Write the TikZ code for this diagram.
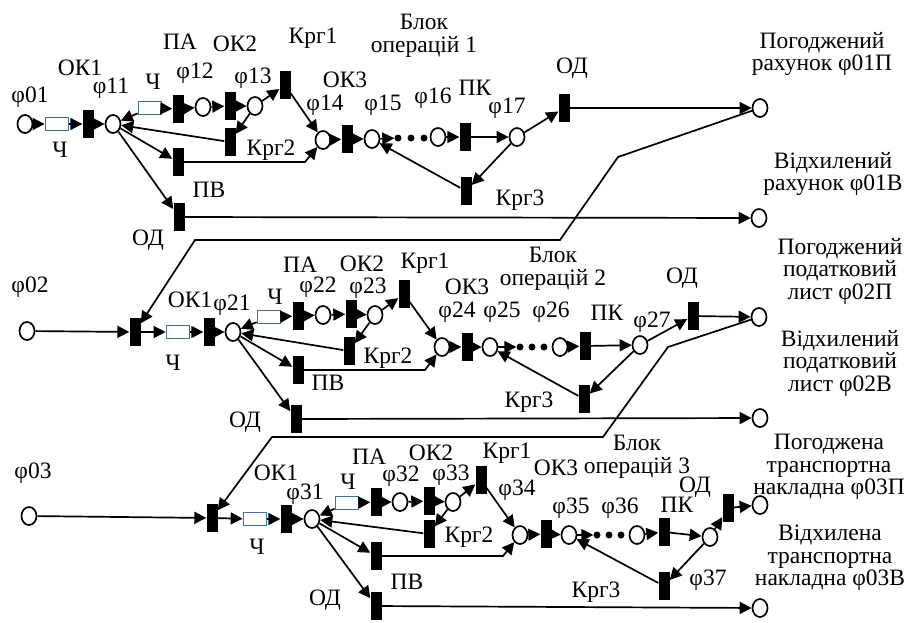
\documentclass[tikz,border=0pt]{standalone}
\usepackage{fontspec}
\setmainfont{Liberation Serif}
\usepackage{tikz}
\usetikzlibrary{arrows.meta,shapes.geometric}
\definecolor{QueueBlue}{HTML}{41719C}

\tikzset{
  place/.style={ellipse, draw, line width=1.7pt, minimum width=15pt, minimum height=18pt, inner sep=0pt},
  trans/.style={rectangle, fill=black, minimum width=11pt, minimum height=28pt, inner sep=0pt},
  queue/.style={rectangle, draw=QueueBlue, line width=1.7pt, minimum width=23pt, minimum height=13pt, inner sep=0pt},
  flow/.style={-{Triangle[length=12pt,width=12pt]}, line width=1.7pt},
  dot/.style={circle, fill=black, minimum size=7pt, inner sep=0pt},
  txt/.style={inner sep=0pt, align=center}
}

\begin{document}
\begin{tikzpicture}[x=1pt, y=-1pt, font=\fontsize{23.5}{22.5}\selectfont]
\useasboundingbox (0,0) rectangle (912,622);

% ---- block 1 ----
\node[place] (p01) at (25,124) {};
\node[queue] (q1a) at (57,124) {};
\node[trans] (ok11) at (88,124) {};
\node[place] (p11) at (113,124) {};
\node[queue] (q1b) at (150,108) {};
\node[trans] (pa1) at (178,109) {};
\node[place] (p12) at (203,107) {};
\node[trans] (ok21) at (230,106) {};
\node[place] (p13) at (255,106) {};
\node[trans] (kr11) at (285,85) {};
\node[trans] (kr21) at (230,142) {};
\node[trans] (pv1) at (178,162) {};
\node[trans] (odb1) at (179,217) {};
\node[place] (p14) at (323,140) {};
\node[trans] (ok31) at (347,139) {};
\node[place] (p15) at (372,139) {};
\node[dot] (d11) at (398,138) {};
\node[dot] (d12) at (411,138) {};
\node[dot] (d13) at (424,138) {};
\node[place] (p16) at (438,137) {};
\node[trans] (pk1) at (465,137) {};
\node[place] (p17) at (517,137) {};
\node[trans] (oda1) at (564,108) {};
\node[trans] (kr31) at (466,191) {};
\node[place] (p01P) at (760,108) {};
\node[place] (p01B) at (759,218) {};
\coordinate (b1) at (305,162);

\node[txt] (l01) at (30,97) {φ01};
\node[txt] (lq1a) at (60,150) {Ч};
\node[txt] (lok11) at (80,68) {ОК1};
\node[txt] (l11) at (111,88) {φ11};
\node[txt] (lq1b) at (153,82) {Ч};
\node[txt] (lpa1) at (180,42) {ПА};
\node[txt] (l12) at (195,73) {φ12};
\node[txt] (lok21) at (235,44) {ОК2};
\node[txt] (l13) at (253,78) {φ13};
\node[txt] (lkr11) at (313,38) {Крг1};
\node[txt] (lkr21) at (271,150) {Крг2};
\node[txt] (lpv1) at (209,190) {ПВ};
\node[txt] (lodb1) at (148,240) {ОД};
\node[txt] (l14) at (325,105) {φ14};
\node[txt] (lok31) at (345,80) {ОК3};
\node[txt] (l15) at (383,105) {φ15};
\node[txt] (l16) at (433,98) {φ16};
\node[txt] (lpk1) at (475,88) {ПК};
\node[txt] (l17) at (507,108) {φ17};
\node[txt] (loda1) at (572,68) {ОД};
\node[txt] (lkr31) at (520,200) {Крг3};
\node[txt] (lblk1) at (424,36) {Блок\\операцій 1};
\node[txt] (l01P) at (822,54) {Погоджений\\рахунок φ01П};
\node[txt] (l01B) at (833,174) {Відхилений\\рахунок φ01В};

\draw[flow] (p01) -- (q1a);
\draw[flow] (q1a) -- (ok11);
\draw[flow] (ok11) -- (p11);
\draw[flow] (q1b) -- (p11);
\draw[flow] (q1b) -- (pa1);
\draw[flow] (pa1) -- (p12);
\draw[flow] (p12) -- (ok21);
\draw[flow] (ok21) -- (p13);
\draw[flow] (p13) -- (kr11);
\draw[flow] (kr11) -- (p14);
\draw[flow] (p13) -- (kr21);
\draw[flow] (kr21) -- (p11);
\draw[flow] (p11) -- (pv1);
\draw[flow] (pv1) -- (b1) -- (p14);
\draw[flow] (p11) -- (odb1);
\draw[flow] (odb1) -- (p01B);
\draw[flow] (p14) -- (ok31);
\draw[flow] (ok31) -- (p15);
\draw[flow] (p15) -- (d11);
\draw[flow] (p16) -- (pk1);
\draw[flow] (pk1) -- (p17);
\draw[flow] (p17) -- (oda1);
\draw[flow] (oda1) -- (p01P);
\draw[flow] (p17) -- (kr31);
\draw[flow] (kr31) -- (p15);

% ---- block 2 ----
\node[place] (p02) at (27,331) {};
\node[trans] (in2) at (135,332) {};
\node[queue] (q2a) at (178,332) {};
\node[trans] (ok12) at (209,332) {};
\node[place] (p21) at (233,332) {};
\node[queue] (q2b) at (269,317) {};
\node[trans] (pa2) at (298,316) {};
\node[place] (p22) at (323,315) {};
\node[trans] (ok22) at (351,314) {};
\node[place] (p23) at (375,315) {};
\node[trans] (kr12) at (404,294) {};
\node[trans] (kr22) at (349,351) {};
\node[trans] (pv2) at (298,370) {};
\node[trans] (odb2) at (296,419) {};
\node[place] (p24) at (442,347) {};
\node[trans] (ok32) at (467,347) {};
\node[place] (p25) at (490,347) {};
\node[dot] (d21) at (520,347) {};
\node[dot] (d22) at (532,347) {};
\node[dot] (d23) at (544,347) {};
\node[place] (p26) at (560,347) {};
\node[trans] (pk2) at (585,346) {};
\node[place] (p27) at (640,345) {};
\node[trans] (oda2) at (693,316) {};
\node[trans] (kr32) at (584,399) {};
\node[place] (p02P) at (759,317) {};
\node[place] (p02B) at (760,418) {};
\coordinate (b2) at (425,370);

\node[txt] (l02) at (30,287) {φ02};
\node[txt] (lq2a) at (173,363) {Ч};
\node[txt] (lok12) at (190,300) {ОК1};
\node[txt] (l21) at (232,305) {φ21};
\node[txt] (lq2b) at (275,297) {Ч};
\node[txt] (lpa2) at (300,265) {ПА};
\node[txt] (l22) at (318,287) {φ22};
\node[txt] (lok22) at (362,264) {ОК2};
\node[txt] (l23) at (368,288) {φ23};
\node[txt] (lkr12) at (425,263) {Крг1};
\node[txt] (lkr22) at (388,358) {Крг2};
\node[txt] (lpv2) at (328,383) {ПВ};
\node[txt] (lodb2) at (245,422) {ОД};
\node[txt] (lok32) at (467,287) {ОК3};
\node[txt] (l24) at (457,312) {φ24};
\node[txt] (l25) at (502,312) {φ25};
\node[txt] (l26) at (551,312) {φ26};
\node[txt] (lpk2) at (607,313) {ПК};
\node[txt] (l27) at (652,322) {φ27};
\node[txt] (loda2) at (682,278) {ОД};
\node[txt] (lkr32) at (529,402) {Крг3};
\node[txt] (lblk2) at (553,269) {Блок\\операцій 2};
\node[txt] (l02P) at (840,271) {Погоджений\\податковий\\лист φ02П};
\node[txt] (l02B) at (840,363) {Відхилений\\податковий\\лист φ02В};

\coordinate (c1) at (618,157);
\coordinate (c2) at (560,240);
\coordinate (c3) at (195,240);
\draw[flow] (p01P) -- (c1) -- (c2) -- (c3) -- (in2);

\draw[flow] (p02) -- (in2);
\draw[flow] (in2) -- (q2a);
\draw[flow] (q2a) -- (ok12);
\draw[flow] (ok12) -- (p21);
\draw[flow] (q2b) -- (p21);
\draw[flow] (q2b) -- (pa2);
\draw[flow] (pa2) -- (p22);
\draw[flow] (p22) -- (ok22);
\draw[flow] (ok22) -- (p23);
\draw[flow] (p23) -- (kr12);
\draw[flow] (kr12) -- (p24);
\draw[flow] (p23) -- (kr22);
\draw[flow] (kr22) -- (p21);
\draw[flow] (p21) -- (pv2);
\draw[flow] (pv2) -- (b2) -- (p24);
\draw[flow] (p21) -- (odb2);
\draw[flow] (odb2) -- (p02B);
\draw[flow] (p24) -- (ok32);
\draw[flow] (ok32) -- (p25);
\draw[flow] (p25) -- (d21);
\draw[flow] (p26) -- (pk2);
\draw[flow] (pk2) -- (p27);
\draw[flow] (p27) -- (oda2);
\draw[flow] (oda2) -- (p02P);
\draw[flow] (p27) -- (kr32);
\draw[flow] (kr32) -- (p25);

% ---- block 3 ----
\node[place] (p03) at (29,516) {};
\node[trans] (in3) at (212,518) {};
\node[queue] (q3a) at (255,519) {};
\node[trans] (ok13) at (286,519) {};
\node[place] (p31) at (312,519) {};
\node[queue] (q3b) at (347,503) {};
\node[trans] (pa3) at (376,502) {};
\node[place] (p32) at (400,502) {};
\node[trans] (ok23) at (429,501) {};
\node[place] (p33) at (453,502) {};
\node[trans] (kr13) at (481,480) {};
\node[trans] (kr23) at (429,534) {};
\node[trans] (pv3) at (376,556) {};
\node[trans] (odb3) at (376,606) {};
\node[place] (p34) at (520,535) {};
\node[trans] (ok33) at (546,534) {};
\node[place] (p35) at (569,535) {};
\node[dot] (d31) at (597,535) {};
\node[dot] (d32) at (609,535) {};
\node[dot] (d33) at (621,535) {};
\node[place] (p36) at (637,535) {};
\node[trans] (pk3) at (664,532) {};
\node[place] (p37) at (710,537) {};
\node[trans] (oda3) at (728,508) {};
\node[trans] (kr33) at (664,586) {};
\node[place] (p03P) at (760,505) {};
\node[place] (p03B) at (760,608) {};
\coordinate (b3) at (503,556);

\node[txt] (l03) at (33,473) {φ03};
\node[txt] (lq3a) at (257,547) {Ч};
\node[txt] (lok13) at (276,473) {ОК1};
\node[txt] (l31) at (305,494) {φ31};
\node[txt] (lq3b) at (348,482) {Ч};
\node[txt] (lpa3) at (369,457) {ПА};
\node[txt] (l32) at (401,476) {φ32};
\node[txt] (lok23) at (431,453) {ОК2};
\node[txt] (l33) at (451,475) {φ33};
\node[txt] (lkr13) at (507,453) {Крг1};
\node[txt] (lkr23) at (469,537) {Крг2};
\node[txt] (lpv3) at (407,582) {ПВ};
\node[txt] (lodb3) at (325,600) {ОД};
\node[txt] (l34) at (517,490) {φ34};
\node[txt] (lok33) at (556,468) {ОК3};
\node[txt] (l35) at (571,508) {φ35};
\node[txt] (l36) at (620,508) {φ36};
\node[txt] (lpk3) at (677,505) {ПК};
\node[txt] (loda3) at (695,487) {ОД};
\node[txt] (l37) at (708,580) {φ37};
\node[txt] (lkr33) at (596,592) {Крг3};
\node[txt] (lblk3) at (637,457) {Блок\\операцій 3};
\node[txt] (l03P) at (829,467) {Погоджена\\транспортна\\накладна φ03П};
\node[txt] (l03B) at (830,558) {Відхилена\\транспортна\\накладна φ03В};

\coordinate (c4) at (668,347);
\coordinate (c5) at (603,437);
\coordinate (c6) at (272,437);
\draw[flow] (p02P) -- (c4) -- (c5) -- (c6) -- (in3);

\draw[flow] (p03) -- (in3);
\draw[flow] (in3) -- (q3a);
\draw[flow] (q3a) -- (ok13);
\draw[flow] (ok13) -- (p31);
\draw[flow] (q3b) -- (p31);
\draw[flow] (q3b) -- (pa3);
\draw[flow] (pa3) -- (p32);
\draw[flow] (p32) -- (ok23);
\draw[flow] (ok23) -- (p33);
\draw[flow] (p33) -- (kr13);
\draw[flow] (kr13) -- (p34);
\draw[flow] (p33) -- (kr23);
\draw[flow] (kr23) -- (p31);
\draw[flow] (p31) -- (pv3);
\draw[flow] (pv3) -- (b3) -- (p34);
\draw[flow] (p31) -- (odb3);
\draw[flow] (odb3) -- (p03B);
\draw[flow] (p34) -- (ok33);
\draw[flow] (ok33) -- (p35);
\draw[flow] (p35) -- (d31);
\draw[flow] (p36) -- (pk3);
\draw[flow] (pk3) -- (p37);
\draw[flow] (p37) -- (oda3);
\draw[flow] (oda3) -- (p03P);
\draw[flow] (p37) -- (kr33);
\draw[flow] (kr33) -- (p35);
\end{tikzpicture}
\end{document}
